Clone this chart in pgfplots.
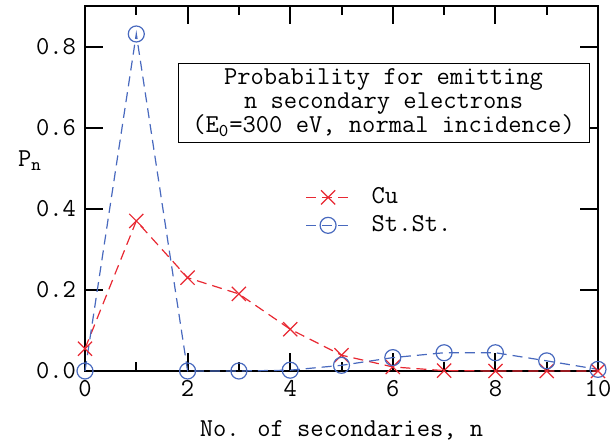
\documentclass[border=0pt]{standalone}
\usepackage{fontspec}
\usepackage{pgfplots}
\pgfplotsset{compat=1.18}
\pgfplotsset{/pgf/number format/assume math mode=true}
\renewcommand{\familydefault}{\ttdefault}
\definecolor{cured}{RGB}{232,40,50}
\definecolor{ssblue}{RGB}{72,105,190}

\begin{document}
\fontsize{12.9}{12}\selectfont
\begin{tikzpicture}
\useasboundingbox (-42.5pt,-36.5pt) rectangle (262.5pt,185.5pt);
\begin{axis}[
  scale only axis,
  width=256.5pt, height=182.5pt,
  xmin=0, xmax=10, ymin=0, ymax=0.9,
  xtick={0,2,4,6,8,10},
  minor xtick={1,3,5,7,9},
  ytick={0,0.2,0.4,0.6,0.8},
  yticklabel style={/pgf/number format/.cd, fixed, fixed zerofill, precision=1, assume math mode=true},
  tick label style={font=\ttfamily},
  tick align=inside,
  major tick length=9pt,
  minor tick length=4.5pt,
  every tick/.style={black, line width=1pt},
  axis line style={line width=1pt},
  clip=false,
  xlabel={No. of secondaries, n},
  ylabel={P\textsubscript{n}},
  every axis x label/.style={at={(axis description cs:0.5,0)}, anchor=base, yshift=-33pt},
  every axis y label/.style={at={(axis description cs:0,0.559)}, anchor=base, xshift=-27.5pt},
  legend style={draw=none, fill=none, inner sep=0pt, at={(rel axis cs:0.429,0.515)},
    anchor=north west, /tikz/every odd column/.append style={column sep=7pt}},
  legend cell align=left,
  legend image code/.code={
    \draw[mark repeat=2, mark phase=2, #1] plot coordinates {(0pt,0pt)(11pt,0pt)(23.5pt,0pt)};
  },
]
\addplot[cured, line width=0.6pt, dash pattern=on 5pt off 3pt,
  mark=x, mark size=5pt, mark options={solid, line width=0.6pt}] coordinates {
  (0,0.055)(1,0.370)(2,0.230)(3,0.190)(4,0.103)(5,0.039)(6,0.010)
  (7,0.001)(8,0.000)(9,0.000)(10,0.000)
};
\addlegendentry{Cu}
\addplot[ssblue, line width=0.6pt, dash pattern=on 5pt off 3pt,
  mark=o, mark size=4pt, mark options={solid, line width=0.6pt}] coordinates {
  (0,0.000)(1,0.831)(2,0.000)(3,0.000)(4,0.002)(5,0.014)(6,0.033)
  (7,0.045)(8,0.045)(9,0.025)(10,0.004)
};
\addlegendentry{St.St.}
\node[draw, line width=0.5pt, align=center, minimum width=205.5pt, minimum height=39.5pt,
  inner sep=0pt, fill=white] at (axis cs:5.82,0.662)
  {Probability for emitting\\n secondary electrons\\(E\textsubscript{0}=300 eV, normal incidence)};
\end{axis}
\end{tikzpicture}
\end{document}
